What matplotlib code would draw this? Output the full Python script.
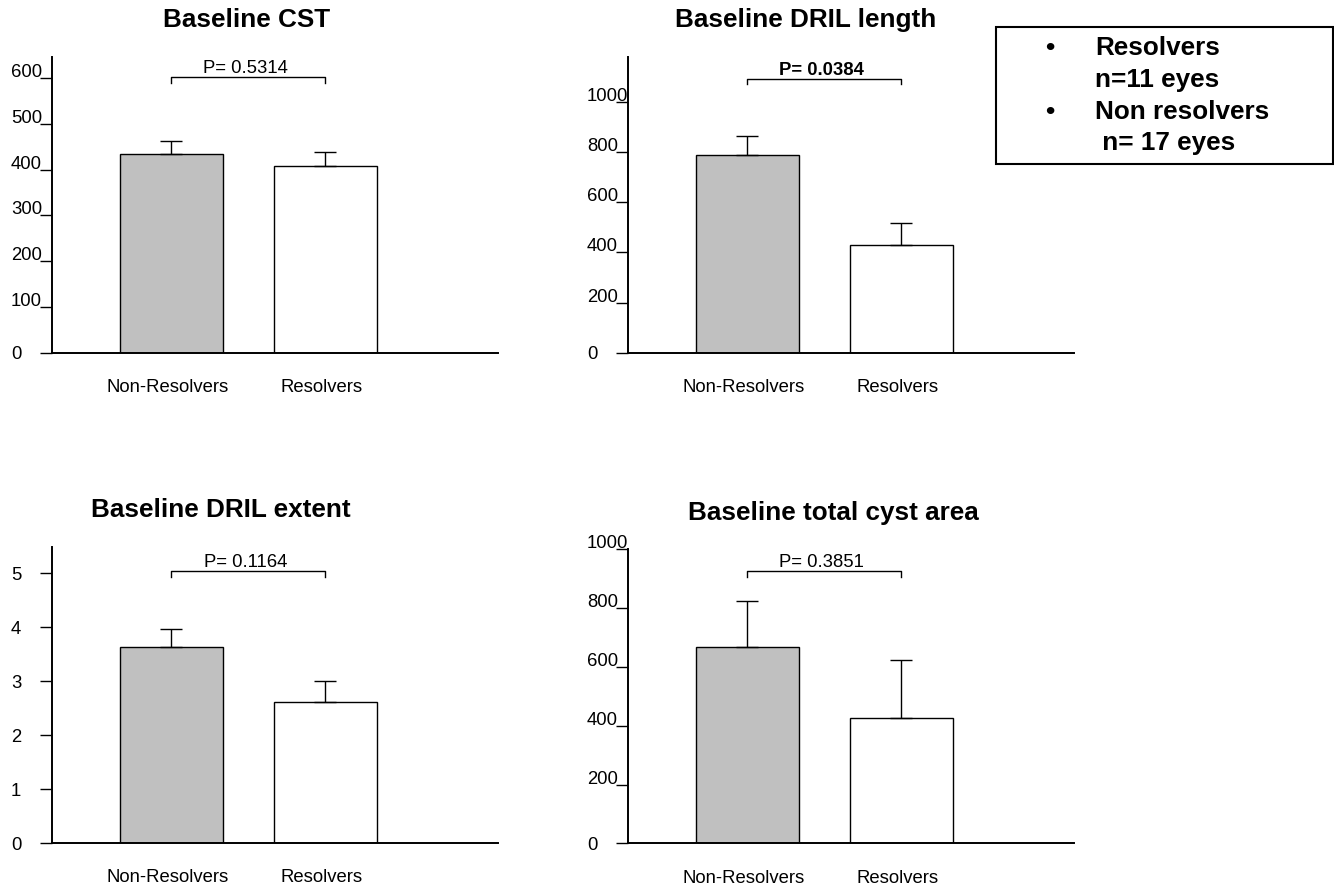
import matplotlib
matplotlib.use("Agg")
import matplotlib.pyplot as plt
from matplotlib.patches import Rectangle
from matplotlib.transforms import ScaledTranslation, blended_transform_factory

plt.rcParams['font.family'] = ['Liberation Sans', 'DejaVu Sans']

# ---------------- data ----------------
groups = ["Non-Resolvers", "Resolvers"]
titles = ["Baseline CST", "Baseline DRIL length",
          "Baseline DRIL extent", "Baseline total cyst area"]

cst_mean = [435, 407]
cst_err = [28, 31]
dril_len_mean = [789, 428]
dril_len_err = [74, 89]
dril_ext_mean = [3.64, 2.62]
dril_ext_err = [0.32, 0.39]
cyst_mean = [669, 427]
cyst_err = [155, 196]

p_labels = ["P= 0.5314", "P= 0.0384", "P= 0.1164", "P= 0.3851"]
p_bold = [False, True, False, False]
bracket_y = [602, 1093, 5.04, 926]

yticks_cst = [0, 100, 200, 300, 400, 500, 600]
yticks_len = [0, 200, 400, 600, 800, 1000]
yticks_ext = [0, 1, 2, 3, 4, 5]
yticks_cyst = [0, 200, 400, 600, 800, 1000]

ymax = [647, 1180, 5.49, 1000]

legend_lines = ["Resolvers", "n=11 eyes", "Non resolvers", " n= 17 eyes"]
legend_bullets = [True, False, True, False]

means = [cst_mean, dril_len_mean, dril_ext_mean, cyst_mean]
errs = [cst_err, dril_len_err, dril_ext_err, cyst_err]
yticks_all = [yticks_cst, yticks_len, yticks_ext, yticks_cyst]

# ---------------- layout ----------------
W, H = 1334, 890
fig = plt.figure(figsize=(W / 100, H / 100), dpi=100)

def px_rect(left, right, top, bottom):
    return [left / W, (H - bottom) / H, (right - left) / W, (bottom - top) / H]

rects = [px_rect(52, 497.7, 56.7, 352.7),
         px_rect(628, 1073.7, 56.7, 352.7),
         px_rect(52, 497.7, 546.7, 843.0),
         px_rect(628, 1073.7, 549.3, 843.3)]

title_x = [0.49, 0.38, 0.32, 0.56]
centered_labels = [False, False, True, False]

positions = [0, 1]
bar_colors = ["#c0c0c0", "white"]
px = 1 / 100  # inches per pixel

for i in range(4):
    ax = fig.add_axes(rects[i])
    ax.bar(positions, means[i], width=0.667, color=bar_colors,
           edgecolor="black", linewidth=1.0, zorder=2)
    ax.errorbar(positions, means[i], yerr=[[0, 0], errs[i]], fmt="none",
                ecolor="black", elinewidth=1.0, capsize=8, capthick=1.0, zorder=3)
    ax.set_xlim(-0.775, 2.12)
    ax.set_ylim(0, ymax[i])

    for s in ["top", "right"]:
        ax.spines[s].set_visible(False)
    for s in ["left", "bottom"]:
        ax.spines[s].set_linewidth(1.4)
        ax.spines[s].set_color("black")

    # x tick labels
    ax.set_xticks(positions)
    ax.set_xticklabels(groups, fontsize=13.3)
    ax.tick_params(axis="x", length=0, pad=19)
    off = ScaledTranslation(-4 * px, 0, fig.dpi_scale_trans)
    for lab in ax.get_xticklabels():
        lab.set_transform(lab.get_transform() + off)

    # y ticks (labels left-aligned at a fixed column)
    ax.set_yticks(yticks_all[i])
    ax.set_yticklabels([str(v) for v in yticks_all[i]], fontsize=13.3)
    ax.tick_params(axis="y", length=8.6, width=1.0, color="black",
                   direction="out", pad=21)
    ticks = ax.yaxis.get_major_ticks()
    for v, t in zip(yticks_all[i], ticks):
        lab = t.label1
        lab.set_horizontalalignment("left")
        if (not centered_labels[i]) and v != 0:
            lab.set_verticalalignment("baseline")
            lab.set_transform(lab.get_transform() +
                              ScaledTranslation(0, 1 * px, fig.dpi_scale_trans))

    # title
    tt = blended_transform_factory(ax.transData, ax.transAxes)
    ax.text(title_x[i], 1.123, titles[i], transform=tt, ha="center",
            va="center", fontsize=18.8, fontweight="bold")

    # significance bracket
    by = bracket_y[i]
    drop = 0.02 * ymax[i]
    ax.plot([0, 0, 1, 1], [by - drop, by, by, by - drop], color="black",
            linewidth=1.0, clip_on=False)
    ax.annotate(p_labels[i], xy=(0.5, by), xytext=(-3, 4),
                textcoords="offset pixels", ha="center", va="baseline",
                fontsize=13.3, fontweight="bold" if p_bold[i] else "normal",
                annotation_clip=False)

# legend box
fig.patches.append(Rectangle((996 / W, (H - 164) / H), (1333 - 996) / W, (164 - 27.3) / H,
                             transform=fig.transFigure, fill=False,
                             edgecolor="black", linewidth=1.5))
line_y = [48.3, 80, 111.7, 142.7]
for yy, txt, b in zip(line_y, legend_lines, legend_bullets):
    if b:
        fig.text(1050 / W, (H - yy) / H, "\u2022", ha="center", va="center",
                 fontsize=18.8, fontweight="bold")
    fig.text(1095 / W, (H - yy) / H, txt, ha="left", va="center",
             fontsize=18.8, fontweight="bold")

fig.savefig("out.png", dpi=100, facecolor="white")
